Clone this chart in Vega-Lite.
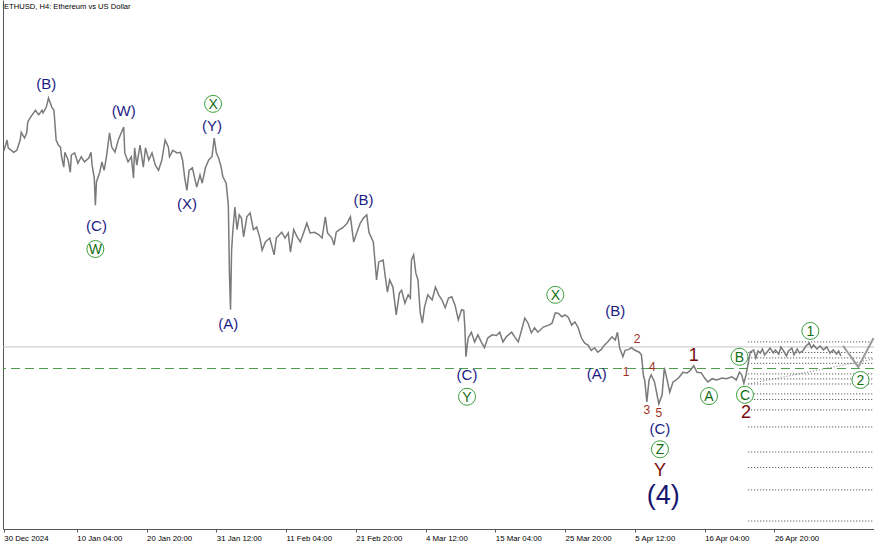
{
  "$schema": "https://vega.github.io/schema/vega-lite/v6.json",
  "width": 871,
  "height": 529,
  "autosize": {"type": "none"},
  "padding": {"left": 3, "top": 0, "right": 0, "bottom": 16},
  "background": "white",
  "title": {
    "text": "ETHUSD, H4:  Ethereum vs US Dollar",
    "anchor": "start",
    "frame": "group",
    "orient": "top",
    "offset": -11,
    "dx": 1,
    "font": "Liberation Sans",
    "fontSize": 7.6,
    "fontWeight": "normal",
    "color": "#000000"
  },
  "datasets": {
    "eth": [
      {"t": "2024-12-30T00:00Z", "p": 3350}, {"t": "2024-12-30T12:00Z", "p": 3435}, {"t": "2024-12-30T16:00Z", "p": 3375},
      {"t": "2024-12-31T12:00Z", "p": 3340}, {"t": "2025-01-01T00:00Z", "p": 3355}, {"t": "2025-01-01T12:00Z", "p": 3435},
      {"t": "2025-01-01T16:00Z", "p": 3495}, {"t": "2025-01-02T04:00Z", "p": 3450}, {"t": "2025-01-02T12:00Z", "p": 3490},
      {"t": "2025-01-02T16:00Z", "p": 3575}, {"t": "2025-01-03T00:00Z", "p": 3605}, {"t": "2025-01-03T08:00Z", "p": 3630},
      {"t": "2025-01-03T20:00Z", "p": 3665}, {"t": "2025-01-04T08:00Z", "p": 3630}, {"t": "2025-01-04T20:00Z", "p": 3665},
      {"t": "2025-01-05T00:00Z", "p": 3645}, {"t": "2025-01-05T12:00Z", "p": 3690}, {"t": "2025-01-05T20:00Z", "p": 3760},
      {"t": "2025-01-06T08:00Z", "p": 3690}, {"t": "2025-01-06T16:00Z", "p": 3665}, {"t": "2025-01-07T00:00Z", "p": 3435},
      {"t": "2025-01-07T08:00Z", "p": 3395}, {"t": "2025-01-07T16:00Z", "p": 3380}, {"t": "2025-01-07T20:00Z", "p": 3305},
      {"t": "2025-01-08T04:00Z", "p": 3225}, {"t": "2025-01-08T08:00Z", "p": 3340}, {"t": "2025-01-08T20:00Z", "p": 3280},
      {"t": "2025-01-09T04:00Z", "p": 3185}, {"t": "2025-01-09T08:00Z", "p": 3320}, {"t": "2025-01-09T20:00Z", "p": 3335},
      {"t": "2025-01-10T08:00Z", "p": 3255}, {"t": "2025-01-10T20:00Z", "p": 3305}, {"t": "2025-01-11T08:00Z", "p": 3265},
      {"t": "2025-01-12T00:00Z", "p": 3295}, {"t": "2025-01-12T08:00Z", "p": 3340}, {"t": "2025-01-12T12:00Z", "p": 3240},
      {"t": "2025-01-12T20:00Z", "p": 3140}, {"t": "2025-01-13T00:00Z", "p": 2930}, {"t": "2025-01-13T04:00Z", "p": 3110},
      {"t": "2025-01-13T16:00Z", "p": 3185}, {"t": "2025-01-14T00:00Z", "p": 3265}, {"t": "2025-01-14T08:00Z", "p": 3200},
      {"t": "2025-01-14T16:00Z", "p": 3295}, {"t": "2025-01-15T04:00Z", "p": 3490}, {"t": "2025-01-15T12:00Z", "p": 3380},
      {"t": "2025-01-16T00:00Z", "p": 3340}, {"t": "2025-01-16T12:00Z", "p": 3435}, {"t": "2025-01-17T00:00Z", "p": 3495},
      {"t": "2025-01-17T08:00Z", "p": 3535}, {"t": "2025-01-17T12:00Z", "p": 3335}, {"t": "2025-01-18T00:00Z", "p": 3265},
      {"t": "2025-01-18T12:00Z", "p": 3305}, {"t": "2025-01-18T20:00Z", "p": 3140}, {"t": "2025-01-19T00:00Z", "p": 3375},
      {"t": "2025-01-19T08:00Z", "p": 3240}, {"t": "2025-01-19T20:00Z", "p": 3395}, {"t": "2025-01-20T08:00Z", "p": 3225},
      {"t": "2025-01-20T16:00Z", "p": 3375}, {"t": "2025-01-21T04:00Z", "p": 3280}, {"t": "2025-01-21T16:00Z", "p": 3335},
      {"t": "2025-01-22T04:00Z", "p": 3240}, {"t": "2025-01-22T16:00Z", "p": 3200}, {"t": "2025-01-23T04:00Z", "p": 3280},
      {"t": "2025-01-23T16:00Z", "p": 3435}, {"t": "2025-01-24T04:00Z", "p": 3380}, {"t": "2025-01-24T08:00Z", "p": 3305},
      {"t": "2025-01-24T20:00Z", "p": 3355}, {"t": "2025-01-25T12:00Z", "p": 3335}, {"t": "2025-01-26T00:00Z", "p": 3340},
      {"t": "2025-01-26T08:00Z", "p": 3280}, {"t": "2025-01-26T16:00Z", "p": 3140}, {"t": "2025-01-27T00:00Z", "p": 3045},
      {"t": "2025-01-27T08:00Z", "p": 3200}, {"t": "2025-01-27T20:00Z", "p": 3220}, {"t": "2025-01-28T12:00Z", "p": 3070},
      {"t": "2025-01-29T00:00Z", "p": 3165}, {"t": "2025-01-29T08:00Z", "p": 3100}, {"t": "2025-01-29T20:00Z", "p": 3220},
      {"t": "2025-01-30T08:00Z", "p": 3280}, {"t": "2025-01-30T20:00Z", "p": 3305}, {"t": "2025-01-31T04:00Z", "p": 3450},
      {"t": "2025-01-31T12:00Z", "p": 3335}, {"t": "2025-01-31T20:00Z", "p": 3295}, {"t": "2025-02-01T04:00Z", "p": 3240},
      {"t": "2025-02-01T12:00Z", "p": 3150}, {"t": "2025-02-02T00:00Z", "p": 3100}, {"t": "2025-02-02T08:00Z", "p": 2930},
      {"t": "2025-02-02T12:00Z", "p": 2405}, {"t": "2025-02-02T16:00Z", "p": 2120}, {"t": "2025-02-02T20:00Z", "p": 2580},
      {"t": "2025-02-03T00:00Z", "p": 2715}, {"t": "2025-02-03T08:00Z", "p": 2915}, {"t": "2025-02-03T16:00Z", "p": 2740},
      {"t": "2025-02-04T00:00Z", "p": 2855}, {"t": "2025-02-04T08:00Z", "p": 2830}, {"t": "2025-02-04T16:00Z", "p": 2685},
      {"t": "2025-02-05T04:00Z", "p": 2840}, {"t": "2025-02-05T16:00Z", "p": 2870}, {"t": "2025-02-06T04:00Z", "p": 2740},
      {"t": "2025-02-06T16:00Z", "p": 2760}, {"t": "2025-02-07T04:00Z", "p": 2675}, {"t": "2025-02-07T12:00Z", "p": 2580},
      {"t": "2025-02-08T00:00Z", "p": 2645}, {"t": "2025-02-08T16:00Z", "p": 2675}, {"t": "2025-02-09T08:00Z", "p": 2545},
      {"t": "2025-02-09T16:00Z", "p": 2675}, {"t": "2025-02-10T12:00Z", "p": 2720}, {"t": "2025-02-11T00:00Z", "p": 2675},
      {"t": "2025-02-11T12:00Z", "p": 2715}, {"t": "2025-02-11T20:00Z", "p": 2565}, {"t": "2025-02-12T08:00Z", "p": 2740},
      {"t": "2025-02-12T20:00Z", "p": 2685}, {"t": "2025-02-13T08:00Z", "p": 2645}, {"t": "2025-02-13T20:00Z", "p": 2715},
      {"t": "2025-02-14T08:00Z", "p": 2790}, {"t": "2025-02-14T20:00Z", "p": 2715}, {"t": "2025-02-15T12:00Z", "p": 2720},
      {"t": "2025-02-16T04:00Z", "p": 2700}, {"t": "2025-02-16T16:00Z", "p": 2675}, {"t": "2025-02-17T04:00Z", "p": 2840},
      {"t": "2025-02-17T12:00Z", "p": 2715}, {"t": "2025-02-18T04:00Z", "p": 2675}, {"t": "2025-02-18T12:00Z", "p": 2620},
      {"t": "2025-02-18T20:00Z", "p": 2720}, {"t": "2025-02-19T08:00Z", "p": 2740}, {"t": "2025-02-19T20:00Z", "p": 2755},
      {"t": "2025-02-20T12:00Z", "p": 2790}, {"t": "2025-02-21T00:00Z", "p": 2840}, {"t": "2025-02-21T12:00Z", "p": 2645},
      {"t": "2025-02-22T00:00Z", "p": 2720}, {"t": "2025-02-22T12:00Z", "p": 2790}, {"t": "2025-02-23T00:00Z", "p": 2830},
      {"t": "2025-02-23T12:00Z", "p": 2855}, {"t": "2025-02-23T20:00Z", "p": 2720}, {"t": "2025-02-24T12:00Z", "p": 2645},
      {"t": "2025-02-24T20:00Z", "p": 2450}, {"t": "2025-02-25T00:00Z", "p": 2350}, {"t": "2025-02-25T08:00Z", "p": 2490},
      {"t": "2025-02-26T00:00Z", "p": 2505}, {"t": "2025-02-26T08:00Z", "p": 2375}, {"t": "2025-02-26T16:00Z", "p": 2255},
      {"t": "2025-02-27T00:00Z", "p": 2350}, {"t": "2025-02-27T12:00Z", "p": 2295}, {"t": "2025-02-28T00:00Z", "p": 2080},
      {"t": "2025-02-28T12:00Z", "p": 2250}, {"t": "2025-02-28T20:00Z", "p": 2270}, {"t": "2025-03-01T08:00Z", "p": 2170},
      {"t": "2025-03-01T20:00Z", "p": 2235}, {"t": "2025-03-02T04:00Z", "p": 2210}, {"t": "2025-03-02T08:00Z", "p": 2505},
      {"t": "2025-03-02T16:00Z", "p": 2545}, {"t": "2025-03-03T00:00Z", "p": 2405}, {"t": "2025-03-03T08:00Z", "p": 2350},
      {"t": "2025-03-03T16:00Z", "p": 2100}, {"t": "2025-03-04T00:00Z", "p": 2015}, {"t": "2025-03-04T08:00Z", "p": 2140},
      {"t": "2025-03-04T20:00Z", "p": 2235}, {"t": "2025-03-05T12:00Z", "p": 2195}, {"t": "2025-03-06T00:00Z", "p": 2295},
      {"t": "2025-03-06T12:00Z", "p": 2235}, {"t": "2025-03-07T00:00Z", "p": 2195}, {"t": "2025-03-07T12:00Z", "p": 2135},
      {"t": "2025-03-08T00:00Z", "p": 2210}, {"t": "2025-03-08T12:00Z", "p": 2220}, {"t": "2025-03-09T00:00Z", "p": 2155},
      {"t": "2025-03-09T12:00Z", "p": 2040}, {"t": "2025-03-10T00:00Z", "p": 2120}, {"t": "2025-03-10T08:00Z", "p": 2115},
      {"t": "2025-03-10T12:00Z", "p": 1985}, {"t": "2025-03-10T16:00Z", "p": 1755}, {"t": "2025-03-11T00:00Z", "p": 1900},
      {"t": "2025-03-11T12:00Z", "p": 1945}, {"t": "2025-03-12T00:00Z", "p": 1870}, {"t": "2025-03-12T12:00Z", "p": 1925},
      {"t": "2025-03-13T00:00Z", "p": 1870}, {"t": "2025-03-13T12:00Z", "p": 1825}, {"t": "2025-03-14T00:00Z", "p": 1900},
      {"t": "2025-03-14T16:00Z", "p": 1925}, {"t": "2025-03-15T08:00Z", "p": 1920}, {"t": "2025-03-15T20:00Z", "p": 1945},
      {"t": "2025-03-16T08:00Z", "p": 1870}, {"t": "2025-03-16T20:00Z", "p": 1910}, {"t": "2025-03-17T16:00Z", "p": 1945},
      {"t": "2025-03-18T04:00Z", "p": 1905}, {"t": "2025-03-18T16:00Z", "p": 1870}, {"t": "2025-03-19T04:00Z", "p": 1960},
      {"t": "2025-03-19T16:00Z", "p": 2055}, {"t": "2025-03-20T04:00Z", "p": 2015}, {"t": "2025-03-20T16:00Z", "p": 1940},
      {"t": "2025-03-21T04:00Z", "p": 1980}, {"t": "2025-03-21T16:00Z", "p": 1945}, {"t": "2025-03-22T12:00Z", "p": 1985},
      {"t": "2025-03-23T08:00Z", "p": 2000}, {"t": "2025-03-23T20:00Z", "p": 2015}, {"t": "2025-03-24T08:00Z", "p": 2095},
      {"t": "2025-03-24T20:00Z", "p": 2090}, {"t": "2025-03-25T08:00Z", "p": 2065}, {"t": "2025-03-25T20:00Z", "p": 2080},
      {"t": "2025-03-26T08:00Z", "p": 2060}, {"t": "2025-03-26T20:00Z", "p": 2000}, {"t": "2025-03-27T08:00Z", "p": 2025},
      {"t": "2025-03-27T20:00Z", "p": 1980}, {"t": "2025-03-28T08:00Z", "p": 1900}, {"t": "2025-03-28T20:00Z", "p": 1860},
      {"t": "2025-03-29T08:00Z", "p": 1845}, {"t": "2025-03-29T20:00Z", "p": 1805}, {"t": "2025-03-30T08:00Z", "p": 1825},
      {"t": "2025-03-30T20:00Z", "p": 1790}, {"t": "2025-03-31T08:00Z", "p": 1810}, {"t": "2025-03-31T20:00Z", "p": 1845},
      {"t": "2025-04-01T08:00Z", "p": 1870}, {"t": "2025-04-02T00:00Z", "p": 1910}, {"t": "2025-04-02T12:00Z", "p": 1885},
      {"t": "2025-04-02T20:00Z", "p": 1945}, {"t": "2025-04-03T04:00Z", "p": 1825}, {"t": "2025-04-03T16:00Z", "p": 1755},
      {"t": "2025-04-04T00:00Z", "p": 1805}, {"t": "2025-04-04T12:00Z", "p": 1810}, {"t": "2025-04-05T00:00Z", "p": 1825},
      {"t": "2025-04-05T12:00Z", "p": 1805}, {"t": "2025-04-06T04:00Z", "p": 1790}, {"t": "2025-04-06T12:00Z", "p": 1770},
      {"t": "2025-04-06T20:00Z", "p": 1600}, {"t": "2025-04-07T00:00Z", "p": 1575}, {"t": "2025-04-07T08:00Z", "p": 1405},
      {"t": "2025-04-07T16:00Z", "p": 1575}, {"t": "2025-04-08T00:00Z", "p": 1615}, {"t": "2025-04-08T12:00Z", "p": 1560},
      {"t": "2025-04-08T20:00Z", "p": 1475}, {"t": "2025-04-09T04:00Z", "p": 1390}, {"t": "2025-04-09T16:00Z", "p": 1460},
      {"t": "2025-04-10T00:00Z", "p": 1670}, {"t": "2025-04-10T12:00Z", "p": 1560}, {"t": "2025-04-10T20:00Z", "p": 1480},
      {"t": "2025-04-11T08:00Z", "p": 1560}, {"t": "2025-04-11T20:00Z", "p": 1575}, {"t": "2025-04-12T08:00Z", "p": 1600},
      {"t": "2025-04-12T20:00Z", "p": 1635}, {"t": "2025-04-13T12:00Z", "p": 1630}, {"t": "2025-04-14T00:00Z", "p": 1650},
      {"t": "2025-04-14T12:00Z", "p": 1685}, {"t": "2025-04-15T00:00Z", "p": 1635}, {"t": "2025-04-15T16:00Z", "p": 1630},
      {"t": "2025-04-16T04:00Z", "p": 1590}, {"t": "2025-04-16T16:00Z", "p": 1560}, {"t": "2025-04-17T08:00Z", "p": 1585},
      {"t": "2025-04-18T00:00Z", "p": 1575}, {"t": "2025-04-18T20:00Z", "p": 1590}, {"t": "2025-04-19T12:00Z", "p": 1585},
      {"t": "2025-04-20T08:00Z", "p": 1600}, {"t": "2025-04-21T00:00Z", "p": 1575}, {"t": "2025-04-21T12:00Z", "p": 1635},
      {"t": "2025-04-21T20:00Z", "p": 1615}, {"t": "2025-04-22T04:00Z", "p": 1550}, {"t": "2025-04-22T12:00Z", "p": 1615},
      {"t": "2025-04-22T20:00Z", "p": 1705}, {"t": "2025-04-23T04:00Z", "p": 1792}, {"t": "2025-04-23T16:00Z", "p": 1808},
      {"t": "2025-04-24T00:00Z", "p": 1745}, {"t": "2025-04-24T08:00Z", "p": 1800}, {"t": "2025-04-24T16:00Z", "p": 1784},
      {"t": "2025-04-25T00:00Z", "p": 1815}, {"t": "2025-04-25T08:00Z", "p": 1769}, {"t": "2025-04-25T20:00Z", "p": 1800},
      {"t": "2025-04-26T04:00Z", "p": 1823}, {"t": "2025-04-26T16:00Z", "p": 1784}, {"t": "2025-04-27T00:00Z", "p": 1808},
      {"t": "2025-04-27T12:00Z", "p": 1776}, {"t": "2025-04-27T20:00Z", "p": 1831}, {"t": "2025-04-28T08:00Z", "p": 1792},
      {"t": "2025-04-28T16:00Z", "p": 1761}, {"t": "2025-04-29T00:00Z", "p": 1800}, {"t": "2025-04-29T12:00Z", "p": 1823},
      {"t": "2025-04-29T20:00Z", "p": 1769}, {"t": "2025-04-30T08:00Z", "p": 1815}, {"t": "2025-04-30T16:00Z", "p": 1784},
      {"t": "2025-05-01T04:00Z", "p": 1800}, {"t": "2025-05-01T16:00Z", "p": 1838}, {"t": "2025-05-02T04:00Z", "p": 1862},
      {"t": "2025-05-02T12:00Z", "p": 1823}, {"t": "2025-05-02T20:00Z", "p": 1846}, {"t": "2025-05-03T08:00Z", "p": 1815},
      {"t": "2025-05-03T20:00Z", "p": 1838}, {"t": "2025-05-04T08:00Z", "p": 1808}, {"t": "2025-05-04T20:00Z", "p": 1831},
      {"t": "2025-05-05T08:00Z", "p": 1784}, {"t": "2025-05-05T20:00Z", "p": 1808}, {"t": "2025-05-06T08:00Z", "p": 1776},
      {"t": "2025-05-06T16:00Z", "p": 1800}, {"t": "2025-05-07T00:00Z", "p": 1761}
    ],
    "path": [
      {"t": "2025-05-07T08:00Z", "p": 1840},
      {"t": "2025-05-09T16:00Z", "p": 1675},
      {"t": "2025-05-12T00:00Z", "p": 1900}
    ],
    "fibs": [
      {"t": "2025-04-22T20:00Z", "t2": "2025-05-12T02:00Z", "p": 1870},
      {"t": "2025-04-22T20:00Z", "t2": "2025-05-12T02:00Z", "p": 1788},
      {"t": "2025-04-22T20:00Z", "t2": "2025-05-12T02:00Z", "p": 1746},
      {"t": "2025-04-22T20:00Z", "t2": "2025-05-12T02:00Z", "p": 1704},
      {"t": "2025-04-22T20:00Z", "t2": "2025-05-12T02:00Z", "p": 1622},
      {"t": "2025-04-22T20:00Z", "t2": "2025-05-12T02:00Z", "p": 1583},
      {"t": "2025-04-22T20:00Z", "t2": "2025-05-12T02:00Z", "p": 1544},
      {"t": "2025-04-22T20:00Z", "t2": "2025-05-12T02:00Z", "p": 1467},
      {"t": "2025-04-22T20:00Z", "t2": "2025-05-12T02:00Z", "p": 1424},
      {"t": "2025-04-22T20:00Z", "t2": "2025-05-12T02:00Z", "p": 1343},
      {"t": "2025-04-22T20:00Z", "t2": "2025-05-12T02:00Z", "p": 1211},
      {"t": "2025-04-22T20:00Z", "t2": "2025-05-12T02:00Z", "p": 1017},
      {"t": "2025-04-22T20:00Z", "t2": "2025-05-12T02:00Z", "p": 897},
      {"t": "2025-04-22T20:00Z", "t2": "2025-05-12T02:00Z", "p": 723},
      {"t": "2025-04-22T20:00Z", "t2": "2025-05-12T02:00Z", "p": 482}
    ],
    "trend": [
      {"t": "2025-04-22T20:00Z", "p": 1544, "t2": "2025-05-12T00:00Z", "p2": 1738}
    ],
    "levels": [
      {"kind": "last", "p": 1831},
      {"kind": "pivot", "p": 1664}
    ],
    "waves": [
      {"t": "2025-01-05T12:00Z", "p": 3870, "label": "(B)", "degree": "intermediate"},
      {"t": "2025-01-17T08:00Z", "p": 3660, "label": "(W)", "degree": "intermediate"},
      {"t": "2025-01-30T20:00Z", "p": 3545, "label": "(Y)", "degree": "intermediate"},
      {"t": "2025-01-13T04:00Z", "p": 2770, "label": "(C)", "degree": "intermediate"},
      {"t": "2025-01-27T00:00Z", "p": 2940, "label": "(X)", "degree": "intermediate"},
      {"t": "2025-02-02T08:00Z", "p": 2010, "label": "(A)", "degree": "intermediate"},
      {"t": "2025-02-23T00:00Z", "p": 2970, "label": "(B)", "degree": "intermediate"},
      {"t": "2025-03-10T20:00Z", "p": 1615, "label": "(C)", "degree": "intermediate"},
      {"t": "2025-04-02T12:00Z", "p": 2110, "label": "(B)", "degree": "intermediate"},
      {"t": "2025-03-30T16:00Z", "p": 1620, "label": "(A)", "degree": "intermediate"},
      {"t": "2025-04-09T08:00Z", "p": 1193, "label": "(C)", "degree": "intermediate"},
      {"t": "2025-01-13T00:00Z", "p": 2590, "label": "W", "degree": "minute"},
      {"t": "2025-01-31T00:00Z", "p": 3715, "label": "X", "degree": "minute"},
      {"t": "2025-03-10T20:00Z", "p": 1445, "label": "Y", "degree": "minute"},
      {"t": "2025-03-24T08:00Z", "p": 2235, "label": "X", "degree": "minute"},
      {"t": "2025-04-09T08:00Z", "p": 1038, "label": "Z", "degree": "minute"},
      {"t": "2025-04-16T20:00Z", "p": 1450, "label": "A", "degree": "minute"},
      {"t": "2025-04-21T12:00Z", "p": 1755, "label": "B", "degree": "minute"},
      {"t": "2025-04-22T08:00Z", "p": 1460, "label": "C", "degree": "minute"},
      {"t": "2025-05-02T08:00Z", "p": 1955, "label": "1", "degree": "minute"},
      {"t": "2025-05-10T00:00Z", "p": 1575, "label": "2", "degree": "minute"},
      {"t": "2025-04-14T12:00Z", "p": 1760, "label": "1", "degree": "minor"},
      {"t": "2025-04-22T12:00Z", "p": 1320, "label": "2", "degree": "minor"},
      {"t": "2025-04-09T08:00Z", "p": 867, "label": "Y", "degree": "minor"},
      {"t": "2025-04-09T20:00Z", "p": 676, "label": "(4)", "degree": "primary"},
      {"t": "2025-04-04T04:00Z", "p": 1635, "label": "1", "degree": "minuette"},
      {"t": "2025-04-05T20:00Z", "p": 1895, "label": "2", "degree": "minuette"},
      {"t": "2025-04-07T08:00Z", "p": 1342, "label": "3", "degree": "minuette"},
      {"t": "2025-04-08T04:00Z", "p": 1675, "label": "4", "degree": "minuette"},
      {"t": "2025-04-09T04:00Z", "p": 1321, "label": "5", "degree": "minuette"}
    ]
  },
  "layer": [
    {
      "data": {"name": "fibs"},
      "mark": {"type": "rule", "color": "#3a3a3a", "strokeWidth": 1, "strokeDash": [1, 2], "clip": true},
      "encoding": {
        "x": {
          "field": "t",
          "type": "temporal",
          "title": null,
          "scale": {
            "type": "utc",
            "domain": [
              {"year": 2024, "month": 12, "date": 29, "hours": 21, "utc": true},
              {"year": 2025, "month": 5, "date": 12, "hours": 1, "minutes": 36, "utc": true}
            ]
          },
          "axis": {
            "values": [
              {"year": 2024, "month": 12, "date": 30, "utc": true},
              {"year": 2025, "month": 1, "date": 10, "hours": 4, "utc": true},
              {"year": 2025, "month": 1, "date": 20, "hours": 20, "utc": true},
              {"year": 2025, "month": 1, "date": 31, "hours": 12, "utc": true},
              {"year": 2025, "month": 2, "date": 11, "hours": 4, "utc": true},
              {"year": 2025, "month": 2, "date": 21, "hours": 20, "utc": true},
              {"year": 2025, "month": 3, "date": 4, "hours": 12, "utc": true},
              {"year": 2025, "month": 3, "date": 15, "hours": 4, "utc": true},
              {"year": 2025, "month": 3, "date": 25, "hours": 20, "utc": true},
              {"year": 2025, "month": 4, "date": 5, "hours": 12, "utc": true},
              {"year": 2025, "month": 4, "date": 16, "hours": 4, "utc": true},
              {"year": 2025, "month": 4, "date": 26, "hours": 20, "utc": true}
            ],
            "labelExpr": "datum.index == 0 ? utcFormat(datum.value, '%-d %b %Y') : utcFormat(datum.value, '%-d %b %H:%M')",
            "labelAlign": "left",
            "labelBaseline": "top",
            "labelPadding": 2,
            "labelFont": "Liberation Sans",
            "labelFontSize": 7.8,
            "labelColor": "#000000",
            "labelOverlap": false,
            "labelFlush": false,
            "labelBound": false,
            "tickSize": 3,
            "tickColor": "#555555",
            "domainColor": "#555555",
            "grid": false
          }
        },
        "x2": {"field": "t2"},
        "y": {
          "field": "p",
          "type": "quantitative",
          "title": null,
          "scale": {"domain": [420, 4520], "nice": false, "zero": false},
          "axis": {"labels": false, "ticks": false, "grid": false, "domainColor": "#555555"}
        }
      }
    },
    {
      "data": {"name": "levels"},
      "transform": [{"filter": "datum.kind == 'last'"}],
      "mark": {"type": "rule", "color": "#c4c4c4", "strokeWidth": 1},
      "encoding": {"y": {"field": "p", "type": "quantitative", "title": null}}
    },
    {
      "data": {"name": "levels"},
      "transform": [{"filter": "datum.kind == 'pivot'"}],
      "mark": {"type": "rule", "color": "#4a9e4a", "strokeWidth": 1, "strokeDash": [9, 5]},
      "encoding": {"y": {"field": "p", "type": "quantitative", "title": null}}
    },
    {
      "data": {"name": "trend"},
      "mark": {"type": "rule", "color": "#777777", "strokeWidth": 1, "strokeDash": [1, 2], "clip": true},
      "encoding": {
        "x": {"field": "t", "type": "temporal", "title": null},
        "x2": {"field": "t2"},
        "y": {"field": "p", "type": "quantitative", "title": null},
        "y2": {"field": "p2"}
      }
    },
    {
      "data": {"name": "eth"},
      "mark": {"type": "line", "color": "#7a7a7a", "strokeWidth": 1.5, "clip": true},
      "encoding": {
        "x": {"field": "t", "type": "temporal", "title": null},
        "y": {"field": "p", "type": "quantitative", "title": null}
      }
    },
    {
      "data": {"name": "path"},
      "mark": {"type": "line", "color": "#9a9a9a", "strokeWidth": 2, "clip": true},
      "encoding": {
        "x": {"field": "t", "type": "temporal", "title": null},
        "y": {"field": "p", "type": "quantitative", "title": null}
      }
    },
    {
      "data": {"name": "waves"},
      "transform": [{"filter": "datum.degree == 'intermediate'"}],
      "mark": {"type": "text", "font": "Liberation Sans", "fontSize": 15, "color": "#1c1c86", "align": "center", "baseline": "middle"},
      "encoding": {
        "x": {"field": "t", "type": "temporal", "title": null},
        "y": {"field": "p", "type": "quantitative", "title": null},
        "text": {"field": "label"}
      }
    },
    {
      "data": {"name": "waves"},
      "transform": [{"filter": "datum.degree == 'primary'"}],
      "mark": {"type": "text", "font": "Liberation Sans", "fontSize": 27, "color": "#16166e", "align": "center", "baseline": "middle"},
      "encoding": {
        "x": {"field": "t", "type": "temporal", "title": null},
        "y": {"field": "p", "type": "quantitative", "title": null},
        "text": {"field": "label"}
      }
    },
    {
      "data": {"name": "waves"},
      "transform": [{"filter": "datum.degree == 'minute'"}],
      "mark": {"type": "point", "shape": "circle", "size": 290, "filled": false, "fill": "white", "fillOpacity": 1, "stroke": "#3ca03c", "strokeWidth": 1, "opacity": 1},
      "encoding": {
        "x": {"field": "t", "type": "temporal", "title": null},
        "y": {"field": "p", "type": "quantitative", "title": null}
      }
    },
    {
      "data": {"name": "waves"},
      "transform": [{"filter": "datum.degree == 'minute'"}],
      "mark": {"type": "text", "font": "Liberation Sans", "fontSize": 14, "color": "#126e12", "align": "center", "baseline": "middle", "dy": 1},
      "encoding": {
        "x": {"field": "t", "type": "temporal", "title": null},
        "y": {"field": "p", "type": "quantitative", "title": null},
        "text": {"field": "label"}
      }
    },
    {
      "data": {"name": "waves"},
      "transform": [{"filter": "datum.degree == 'minor'"}],
      "mark": {"type": "text", "font": "Liberation Sans", "fontSize": 18, "color": "#7a0a0a", "align": "center", "baseline": "middle"},
      "encoding": {
        "x": {"field": "t", "type": "temporal", "title": null},
        "y": {"field": "p", "type": "quantitative", "title": null},
        "text": {"field": "label"}
      }
    },
    {
      "data": {"name": "waves"},
      "transform": [{"filter": "datum.degree == 'minuette'"}],
      "mark": {"type": "text", "font": "Liberation Sans", "fontSize": 12, "color": "#a0301c", "align": "center", "baseline": "middle"},
      "encoding": {
        "x": {"field": "t", "type": "temporal", "title": null},
        "y": {"field": "p", "type": "quantitative", "title": null},
        "text": {"field": "label"}
      }
    }
  ],
  "config": {"view": {"stroke": null}, "font": "Liberation Sans"}
}
